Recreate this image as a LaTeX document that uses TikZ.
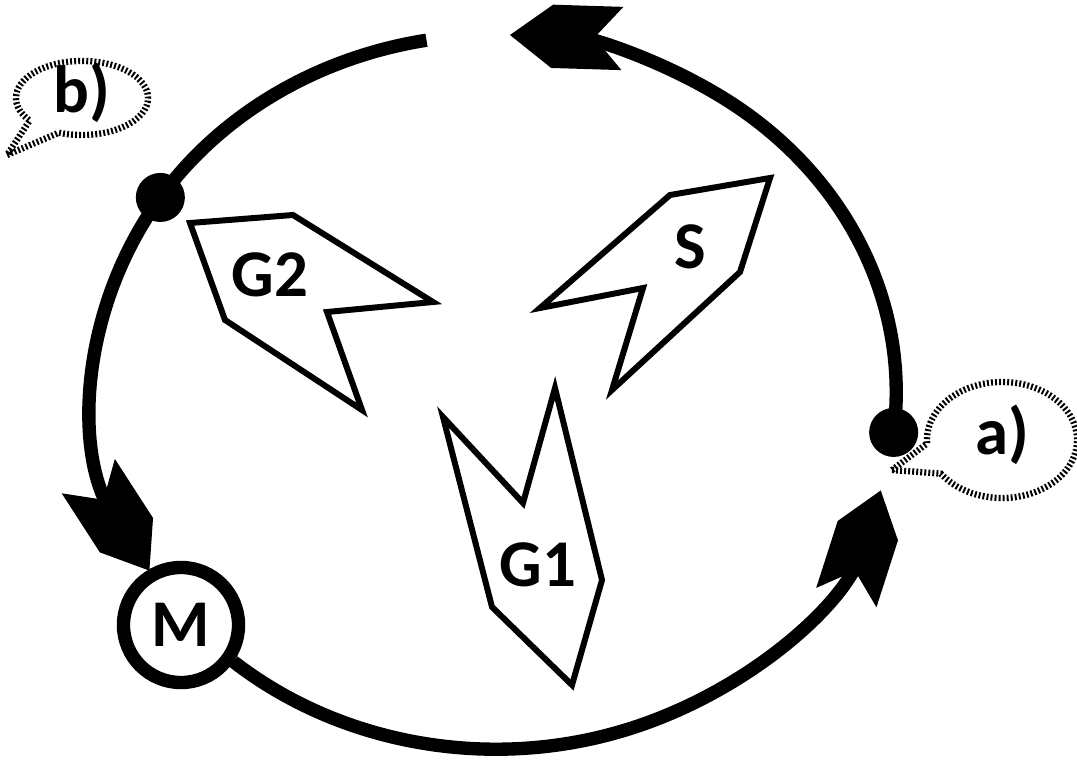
\documentclass[tikz,border=0pt]{standalone}
\usepackage{fontspec}
\setmainfont{Carlito}
\usetikzlibrary{shapes.callouts}

\pgfdeclarearrow{
  name=Dart,
  parameters={},
  setup code={
    \pgfarrowssettipend{0pt}
    \pgfarrowssetlineend{-20pt}
    \pgfarrowssetbackend{-32pt}
    \pgfarrowshullpoint{0pt}{0pt}
    \pgfarrowshullpoint{-32pt}{9pt}
    \pgfarrowshullpoint{-32pt}{-9pt}
  },
  drawing code={
    \pgfpathmoveto{\pgfqpoint{0pt}{0pt}}
    \pgfpathlineto{\pgfqpoint{-12pt}{9pt}}
    \pgfpathlineto{\pgfqpoint{-32pt}{9pt}}
    \pgfpathlineto{\pgfqpoint{-24pt}{0pt}}
    \pgfpathlineto{\pgfqpoint{-32pt}{-9pt}}
    \pgfpathlineto{\pgfqpoint{-12pt}{-9pt}}
    \pgfpathclose
    \pgfusepathqfill
  }
}

\begin{document}
\begin{tikzpicture}[x=0.01cm,y=0.01cm,>=Dart,
  loop/.style={line width=3.8pt},
  piece/.style={draw,line width=1.7pt},
  lbl/.style={font=\fontsize{19}{21}\selectfont\bfseries,inner sep=0pt},
  dot/.style={circle,fill,inner sep=0pt,minimum size=0.49cm},
  bubble/.style={ellipse callout,draw,line width=1.8pt,dash pattern=on 0.55pt off 0.6pt,callout pointer arc=32,lbl,text height=9pt,text depth=1pt}]
\useasboundingbox (0,0) rectangle (1077,-761);
\coordinate (O) at (496,-392);
\path (O) ++(-6.5:4cm and 3.57cm) node[dot] (a) {};
\path (O) ++(147:4cm and 3.57cm) node[dot] (b) {};
\path (O) ++(229:4cm and 3.57cm) coordinate (m0);
\node[circle,draw,fill=white,line width=3.8pt,minimum size=1.15cm,lbl] (m) at (181,-625) {M};
% cycle
\draw[loop,->] (a.center) arc[start angle=-6.5,end angle=88,x radius=4cm,y radius=3.57cm];
\draw[loop] (b.center) arc[start angle=147,end angle=100,x radius=4cm,y radius=3.57cm];
\draw[loop,->] (b.center) arc[start angle=147,end angle=210,x radius=4cm,y radius=3.57cm];
\draw[loop,->] (m0) arc[start angle=229,end angle=344,x radius=4cm,y radius=3.57cm];
% pieces
\draw[piece] (190,-223)--(293,-215)--(433,-302)--(327,-312)--(362,-410)--(225,-320)--cycle;
\node[lbl] (g2) at (270,-275) {G2};
\draw[piece] (770,-178)--(740,-272)--(612,-390)--(643,-288)--(540,-308)--(670,-195)--cycle;
\node[lbl] (s) at (690,-247) {S};
\draw[piece] (555,-388)--(602,-580)--(572,-685)--(492,-607)--(443,-417)--(523,-503)--cycle;
\node[lbl] (g1) at (538,-565) {G1};
% bubbles
\node[bubble,minimum width=1.32cm,minimum height=0.74cm,callout absolute pointer={(7,-155)}] (lb) at (82,-98) {b)};
\node[bubble,minimum width=1.5cm,minimum height=1.16cm,callout absolute pointer={(892,-470)}] (la) at (1002,-440) {a)};
\end{tikzpicture}
\end{document}
